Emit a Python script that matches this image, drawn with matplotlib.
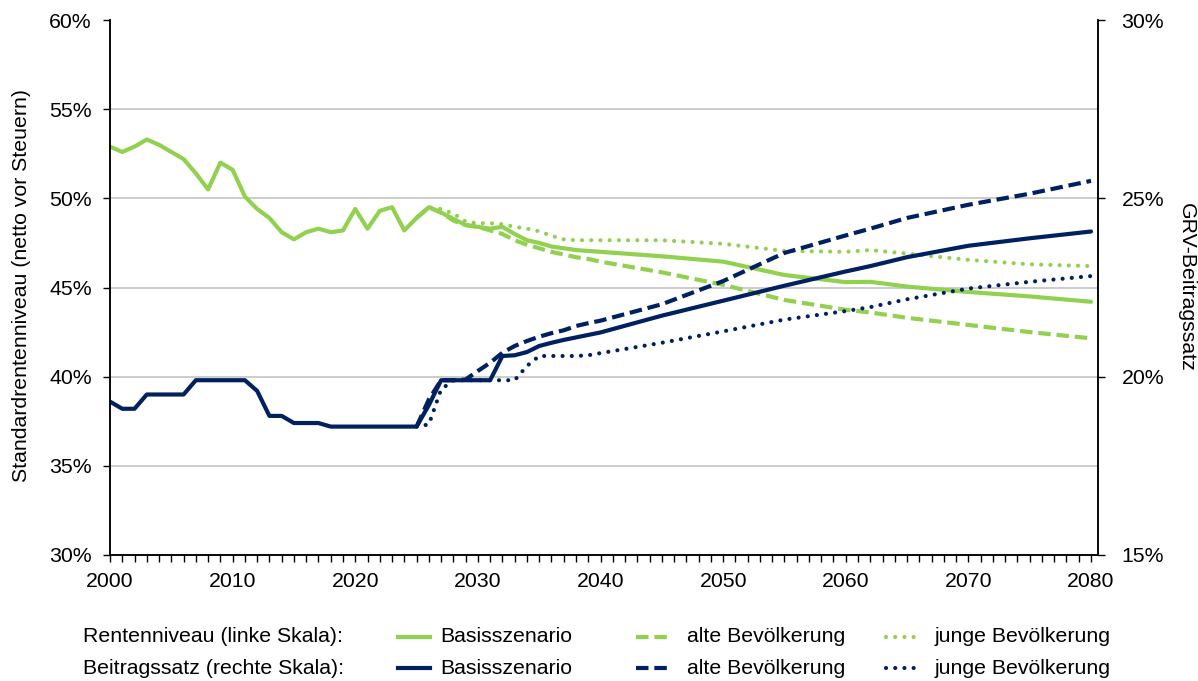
#!/usr/bin/env python3
import matplotlib
matplotlib.use("Agg")
import matplotlib.pyplot as plt
from matplotlib.lines import Line2D
from matplotlib.ticker import MultipleLocator, FuncFormatter

plt.rcParams["font.family"] = ["Liberation Sans", "DejaVu Sans"]

# --- data ---
years = list(range(2000, 2041)) + [2045, 2050, 2055, 2060, 2062, 2065, 2070, 2075, 2080]
scen_years = list(range(2025, 2041)) + [2045, 2050, 2055, 2060, 2062, 2065, 2070, 2075, 2080]

# Rentenniveau (left axis, %)
rn_basis = [52.9, 52.6, 52.9, 53.3, 53.0, 52.6, 52.2, 51.4, 50.5, 52.0,
            51.6, 50.1, 49.4, 48.9, 48.1, 47.7, 48.1, 48.3, 48.1, 48.2,
            49.4, 48.3, 49.3, 49.5, 48.2, 48.9, 49.5, 49.2, 48.85, 48.5,
            48.4, 48.3, 48.4, 48.0, 47.65, 47.5, 47.3, 47.2, 47.1, 47.05,
            47.0, 46.75, 46.45, 45.7, 45.3, 45.32, 45.05, 44.75, 44.5, 44.2]
rn_alt = [48.9, 49.5, 49.2, 48.75, 48.5, 48.4, 48.2, 48.0, 47.65, 47.4,
          47.2, 47.0, 46.85, 46.7, 46.6, 46.45, 45.85, 45.15, 44.3, 43.75,
          43.6, 43.3, 42.9, 42.5, 42.15]
rn_jung = [48.9, 49.5, 49.4, 49.15, 48.7, 48.6, 48.6, 48.55, 48.4, 48.3,
           48.15, 47.9, 47.7, 47.65, 47.65, 47.65, 47.65, 47.45, 47.05, 47.0,
           47.1, 46.9, 46.55, 46.3, 46.2]

# Beitragssatz (right axis, %)
bs_basis = [19.3, 19.1, 19.1, 19.5, 19.5, 19.5, 19.5, 19.9, 19.9, 19.9,
            19.9, 19.9, 19.6, 18.9, 18.9, 18.7, 18.7, 18.7, 18.6, 18.6,
            18.6, 18.6, 18.6, 18.6, 18.6, 18.6, 19.2, 19.9, 19.9, 19.9,
            19.9, 19.9, 20.58, 20.6, 20.69, 20.86, 20.95, 21.03, 21.1, 21.17,
            21.24, 21.71, 22.13, 22.55, 22.95, 23.1, 23.35, 23.67, 23.88, 24.07]
bs_alt = [18.6, 19.36, 19.9, 19.9, 19.92, 20.16, 20.39, 20.67, 20.86, 21.0,
          21.12, 21.22, 21.3, 21.42, 21.5, 21.57, 22.03, 22.68, 23.47, 23.96,
          24.15, 24.45, 24.82, 25.13, 25.49]
bs_jung = [18.6, 18.66, 19.64, 19.9, 19.9, 19.9, 19.9, 19.9, 19.9, 20.3,
           20.58, 20.58, 20.58, 20.58, 20.6, 20.66, 20.95, 21.27, 21.6, 21.84,
           21.95, 22.17, 22.47, 22.66, 22.82]

GREEN = "#92D050"
NAVY = "#002060"
LW = 3.0
DASH = (3.0, 1.4)
DOT = (0.01, 2.2)
FS = 15.3

fig = plt.figure(figsize=(11.98, 6.81), dpi=100)
W, H = 1198, 681
ax = fig.add_axes([110 / W, 1 - 555 / H, 988 / W, 535 / H])
ax2 = ax.twinx()

# gridlines (no line at the top edge)
for g in [35, 40, 45, 50, 55]:
    ax.axhline(g, color="#BFBFBF", lw=1.1, zorder=0)

ax.plot(years, rn_basis, color=GREEN, lw=LW, solid_capstyle="round", solid_joinstyle="round")
ax.plot(scen_years, rn_alt, color=GREEN, lw=LW, dashes=DASH)
ax.plot(scen_years, rn_jung, color=GREEN, lw=LW, dashes=DOT, dash_capstyle="round")

ax2.plot(years, bs_basis, color=NAVY, lw=LW, solid_capstyle="round", solid_joinstyle="round")
ax2.plot(scen_years, bs_alt, color=NAVY, lw=LW, dashes=DASH)
ax2.plot(scen_years, bs_jung, color=NAVY, lw=LW, dashes=DOT, dash_capstyle="round")

ax.set_xlim(2000, 2080.57)
ax.set_ylim(30, 60)
ax2.set_ylim(15, 30)

ax.xaxis.set_major_locator(MultipleLocator(10))
ax.xaxis.set_minor_locator(MultipleLocator(1))
ax.yaxis.set_major_locator(MultipleLocator(5))
ax2.yaxis.set_major_locator(MultipleLocator(5))
pct = FuncFormatter(lambda v, p: f"{v:.0f}%")
ax.yaxis.set_major_formatter(pct)
ax2.yaxis.set_major_formatter(pct)

for a in (ax, ax2):
    a.spines["top"].set_visible(False)
    for s in ("left", "right", "bottom"):
        a.spines[s].set_color("black")
        a.spines[s].set_linewidth(1.1)
    a.tick_params(which="both", direction="out", length=5, width=1, colors="black",
                  labelsize=FS)
ax.tick_params(axis="y", pad=8)
ax2.tick_params(axis="y", pad=12)
ax.tick_params(axis="x", which="both", length=5, pad=7)

fig.text(22 / W, 1 - 286 / H, "Standardrentenniveau (netto vor Steuern)",
         rotation=90, ha="center", va="center", fontsize=FS)
fig.text(1186 / W, 1 - 287 / H, "GRV-Beitragssatz",
         rotation=270, ha="center", va="center", fontsize=FS)

# legend rows
rows = [("Rentenniveau (linke Skala):", GREEN, 637),
        ("Beitragssatz (rechte Skala):", NAVY, 668)]
entries = [("Basisszenario", None, 398, 440),
           ("alte Bevölkerung", DASH, 636, 687),
           ("junge Bevölkerung", DOT, 886, 935)]
for label, col, yp in rows:
    fy = 1 - yp / H
    fig.text(83 / W, fy, label, ha="left", va="center", fontsize=FS)
    for name, dash, x0, xt in entries:
        kw = dict(color=col, lw=LW, transform=fig.transFigure)
        if dash is not None:
            kw["dashes"] = dash
            if dash is DOT:
                kw["dash_capstyle"] = "round"
        fig.add_artist(Line2D([x0 / W, (x0 + 32) / W], [fy, fy], **kw))
        fig.text(xt / W, fy, name, ha="left", va="center", fontsize=FS)

fig.savefig("out.png", dpi=100)
